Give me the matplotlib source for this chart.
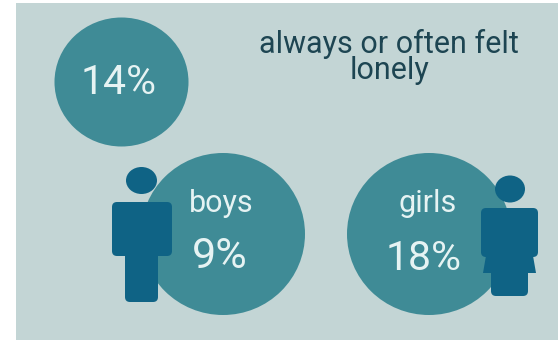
import matplotlib
matplotlib.use("Agg")
import matplotlib.pyplot as plt
from matplotlib.patches import Ellipse, FancyBboxPatch, Polygon, Rectangle

plt.rcParams["font.family"] = ["Roboto", "DejaVu Sans"]

groups = ["", "boys", "girls"]
shares = ["14%", "9%", "18%"]
centers_x = [121.5, 223, 429]
centers_y = [82, 234, 234]
radii_x = [67, 82, 82]
radii_y = [64.5, 81, 81]
title_lines = ["always or often felt", "lonely"]

BG = "#c3d5d5"
TEAL = "#3f8b96"
ICON = "#0f6385"
INK = "#1d4552"
TEXT = "#e6f3f3"

fig = plt.figure(figsize=(5.58, 3.41), dpi=100)
ax = fig.add_axes([0, 0, 1, 1])
ax.set_xlim(0, 558)
ax.set_ylim(341, 0)
ax.axis("off")

ax.add_patch(Rectangle((16, 3), 542, 337, fc=BG, ec="none", zorder=0))

for cx, cy, rx, ry in zip(centers_x, centers_y, radii_x, radii_y):
    ax.add_patch(Ellipse((cx, cy), 2 * rx, 2 * ry, fc=TEAL, ec="none", zorder=1))


def rounded(x0, y0, x1, y1, r=5):
    ax.add_patch(FancyBboxPatch((x0 + r, y0 + r), x1 - x0 - 2 * r, y1 - y0 - 2 * r,
                                boxstyle=f"round,pad={r},rounding_size={r}",
                                fc=ICON, ec="none", zorder=2))


# man
ax.add_patch(Ellipse((141.5, 180.5), 31, 27, fc=ICON, ec="none", zorder=2))
rounded(112, 202, 172, 256)
rounded(125, 230, 158, 302)

# woman
ax.add_patch(Ellipse((510, 189), 30, 27, fc=ICON, ec="none", zorder=2))
rounded(481, 208, 538, 257)
ax.add_patch(Polygon([(487, 250), (532, 250), (536, 273), (483, 273)], fc=ICON, ec="none", zorder=2))
rounded(491, 255, 528, 296)

# share labels and group names
ax.text(118.5, 83, shares[0], color=TEXT, fontsize=29.5, ha="center", va="center", zorder=3)
ax.text(221, 203, groups[1], color=TEXT, fontsize=22, ha="center", va="center", zorder=3)
ax.text(220, 257, shares[1], color=TEXT, fontsize=31, ha="center", va="center", zorder=3)
ax.text(428, 203, groups[2], color=TEXT, fontsize=22, ha="center", va="center", zorder=3)
ax.text(424, 259, shares[2], color=TEXT, fontsize=29.5, ha="center", va="center", zorder=3)

ax.text(389, 57, "\n".join(title_lines), color=INK, fontsize=22, linespacing=0.86,
        ha="center", va="center", zorder=3)

fig.savefig("out.png", dpi=100, facecolor="white")
